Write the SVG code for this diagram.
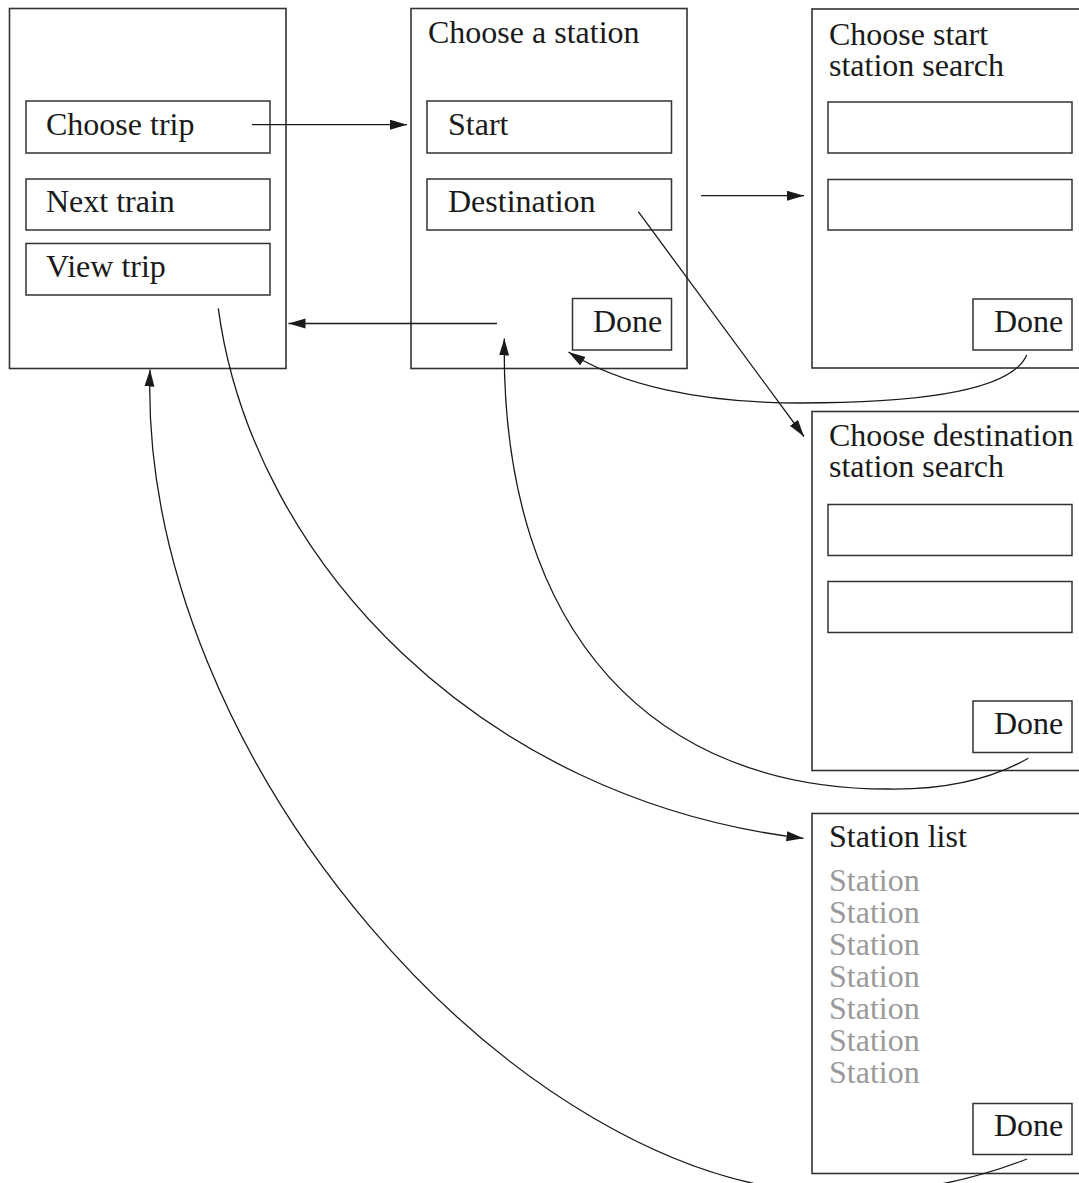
<svg xmlns="http://www.w3.org/2000/svg" width="1079" height="1183" viewBox="0 0 1079 1183">
  <style>
    .frame { fill: #ffffff; stroke: #333333; stroke-width: 1.6; }
    .field { fill: none; stroke: #333333; stroke-width: 1.5; }
    .label { font-family: 'Liberation Serif', 'DejaVu Serif', serif; font-size: 32px; fill: #1a1a1a; }
    .item { font-family: 'Liberation Serif', 'DejaVu Serif', serif; font-size: 32px; fill: #9a9a9a; }
    .link { fill: none; stroke: #1a1a1a; stroke-width: 1.3; marker-end: url(#arrow); }
  </style>
  <defs>
    <marker id="arrow" markerUnits="userSpaceOnUse" markerWidth="18" markerHeight="12" refX="17" refY="5" orient="auto">
      <path d="M0,0 L17,5 L0,10 z" fill="#1a1a1a"/>
    </marker>
  </defs>

  <rect width="1079" height="1183" fill="#ffffff"/>

  <!-- Main menu screen -->
  <g id="main-menu">
    <rect class="frame" x="9.5" y="8.5" width="276.5" height="360"/>
    <rect class="field" x="26" y="101" width="244" height="52"/>
    <text class="label" x="46" y="135">Choose trip</text>
    <rect class="field" x="26" y="179" width="244" height="51"/>
    <text class="label" x="46" y="212">Next train</text>
    <rect class="field" x="26" y="243.5" width="244" height="51.5"/>
    <text class="label" x="46" y="277">View trip</text>
  </g>

  <!-- Choose a station screen -->
  <g id="choose-station">
    <rect class="frame" x="411" y="8.5" width="276" height="360"/>
    <text class="label" x="428" y="43">Choose a station</text>
    <rect class="field" x="427" y="101" width="244.5" height="52"/>
    <text class="label" x="448" y="135">Start</text>
    <rect class="field" x="427" y="179" width="244.5" height="51"/>
    <text class="label" x="448" y="212">Destination</text>
    <rect class="field" x="572.5" y="298.5" width="99" height="51.5"/>
    <text class="label" x="593" y="332">Done</text>
  </g>

  <!-- Start station search screen -->
  <g id="start-search">
    <rect class="frame" x="812" y="9" width="300" height="359"/>
    <text class="label" x="829" y="45">Choose start</text>
    <text class="label" x="829" y="76">station search</text>
    <rect class="field" x="828" y="102" width="244" height="51"/>
    <rect class="field" x="828" y="179.5" width="244" height="50.5"/>
    <rect class="field" x="973" y="299" width="99" height="51"/>
    <text class="label" x="994" y="332">Done</text>
  </g>

  <!-- Destination station search screen -->
  <g id="destination-search">
    <rect class="frame" x="812" y="411.5" width="300" height="359"/>
    <text class="label" x="829" y="446">Choose destination</text>
    <text class="label" x="829" y="477">station search</text>
    <rect class="field" x="828" y="504.5" width="244" height="51"/>
    <rect class="field" x="828" y="581.5" width="244" height="51"/>
    <rect class="field" x="973" y="701" width="99" height="51.5"/>
    <text class="label" x="994" y="734">Done</text>
  </g>

  <!-- Station list screen -->
  <g id="station-list">
    <rect class="frame" x="812" y="813.5" width="300" height="360"/>
    <text class="label" x="829" y="847">Station list</text>
    <text class="item" x="829" y="891">Station</text>
    <text class="item" x="829" y="923">Station</text>
    <text class="item" x="829" y="955">Station</text>
    <text class="item" x="829" y="987">Station</text>
    <text class="item" x="829" y="1019">Station</text>
    <text class="item" x="829" y="1051">Station</text>
    <text class="item" x="829" y="1083">Station</text>
    <rect class="field" x="973" y="1103.5" width="99" height="51"/>
    <text class="label" x="994" y="1136">Done</text>
  </g>

  <!-- Navigation links between screens -->
  <g id="connectors">
    <path class="link" d="M252,124.7 L407,124.7"/>
    <path class="link" d="M701,195.7 L804,195.7"/>
    <path class="link" d="M497,323.5 L288.5,323.5"/>
    <path class="link" d="M638.3,211.7 L804,436.5"/>
    <path class="link" d="M1026.7,355 C1010,395 900,403 800,403 C700,403 620,385 568.5,352"/>
    <path class="link" d="M1028.3,758.3 C990,780 940,790 887,789 C660,789 500,640 504.3,338.5"/>
    <path class="link" d="M218.3,308.3 C252,560 480,800 803.5,838.3"/>
    <path class="link" d="M1027,1159 Q935,1195 835,1193 C520,1190 138,760 150,369.5"/>
  </g>
</svg>
